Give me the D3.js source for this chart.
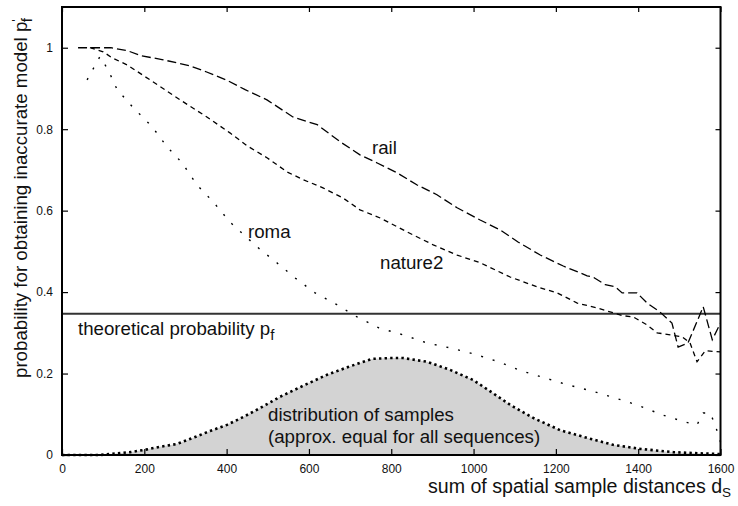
<!DOCTYPE html>
<html>
<head>
<meta charset="utf-8">
<script src="https://cdn.jsdelivr.net/npm/d3@7"></script>
<style>
  html, body { margin: 0; padding: 0; background: #fff; }
  text { font-family: "Liberation Sans", Arial, Helvetica, sans-serif; fill: #111; }
</style>
</head>
<body>
<svg id="chart" width="738" height="506"></svg>
<script>
// ---- data ----
const xTicks = [0, 200, 400, 600, 800, 1000, 1200, 1400, 1600];
const yTicks = [0, 0.2, 0.4, 0.6, 0.8, 1];
const yTickLabels = ["0", "0.2", "0.4", "0.6", "0.8", "1"];

const theoreticalP = 0.347;

const railX = [39,119,158,194,243,309,350,399,445,498,561,620,676,724,766,814,863,911,960,1016,1064,1108,1162,1218,1276,1290,1320,1344,1361,1397,1422,1453,1482,1497,1521,1558,1580,1600];
const railY = [1.0,1.0,0.993,0.980,0.971,0.956,0.941,0.921,0.897,0.872,0.830,0.811,0.769,0.737,0.717,0.693,0.663,0.639,0.607,0.577,0.553,0.523,0.491,0.464,0.440,0.437,0.418,0.413,0.398,0.398,0.373,0.351,0.324,0.265,0.275,0.364,0.283,0.324];

const nature2X = [68,100,122,158,214,287,352,408,450,498,547,586,634,683,724,773,838,902,960,1016,1089,1154,1203,1252,1300,1363,1388,1422,1446,1478,1507,1526,1543,1563,1600];
const nature2Y = [1.0,0.990,0.975,0.958,0.921,0.872,0.830,0.791,0.759,0.730,0.695,0.676,0.656,0.631,0.602,0.582,0.548,0.516,0.491,0.472,0.437,0.413,0.398,0.373,0.361,0.342,0.339,0.319,0.300,0.295,0.290,0.275,0.229,0.256,0.253];

const romaX = [61,92,112,134,173,219,255,292,328,367,408,474,522,566,615,668,717,770,829,887,943,1001,1060,1118,1174,1230,1288,1344,1397,1460,1514,1543,1558,1575,1587,1600];
const romaY = [0.921,0.978,0.946,0.897,0.853,0.806,0.757,0.717,0.663,0.622,0.572,0.511,0.472,0.435,0.398,0.369,0.339,0.312,0.295,0.275,0.263,0.248,0.229,0.206,0.189,0.172,0.157,0.140,0.123,0.098,0.081,0.074,0.103,0.103,0.074,0.032];

const distX = [0,92,165,197,238,279,318,360,401,440,481,530,586,644,695,753,797,829,887,943,999,1047,1089,1145,1210,1276,1339,1405,1485,1600];
const distY = [0,0,0.007,0.012,0.020,0.027,0.042,0.059,0.074,0.093,0.115,0.143,0.170,0.197,0.216,0.236,0.238,0.238,0.229,0.209,0.184,0.152,0.123,0.091,0.061,0.042,0.025,0.015,0.007,0.002];

// ---- layout ----
const svg = d3.select("#chart");
const L = 62, R = 720.5, T = 7, B = 455;
const x = d3.scaleLinear().domain([0, 1600]).range([L, R]);
const y = d3.scaleLinear().domain([0, 1.1]).range([B, T]);

const zip = (xs, ys) => xs.map((v, i) => [v, ys[i]]);
const line = d3.line().x(d => x(d[0])).y(d => y(d[1]));
const area = d3.area().x(d => x(d[0])).y0(y(0)).y1(d => y(d[1]));

// distribution fill
svg.append("path").attr("d", area(zip(distX, distY)))
  .attr("fill", "#d3d3d3").attr("stroke", "none");
svg.append("path").attr("d", line(zip(distX, distY)))
  .attr("fill", "none").attr("stroke", "#000").attr("stroke-width", 2.6)
  .attr("stroke-dasharray", "2.4,3.2");

// theoretical line
svg.append("line").attr("x1", x(0)).attr("x2", x(1600))
  .attr("y1", y(theoreticalP)).attr("y2", y(theoreticalP))
  .attr("stroke", "#333").attr("stroke-width", 1.9);

// series
svg.append("path").attr("d", line(zip(railX, railY)))
  .attr("fill", "none").attr("stroke", "#000").attr("stroke-width", 1.3)
  .attr("stroke-dasharray", "9,4");
svg.append("path").attr("d", line(zip(nature2X, nature2Y)))
  .attr("fill", "none").attr("stroke", "#000").attr("stroke-width", 1.3)
  .attr("stroke-dasharray", "5,4");
svg.append("path").attr("d", line(zip(romaX, romaY)))
  .attr("fill", "none").attr("stroke", "#000").attr("stroke-width", 1.4)
  .attr("stroke-dasharray", "2,10");

// axes
const xAxis = d3.axisBottom(x).tickValues(xTicks).tickSize(-6).tickPadding(9)
  .tickFormat(d3.format("d"));
const gx = svg.append("g").attr("transform", `translate(0,${B})`).call(xAxis);
const yAxis = d3.axisLeft(y).tickValues(yTicks).tickSize(-6).tickPadding(9)
  .tickFormat((d, i) => yTickLabels[i]);
const gy = svg.append("g").attr("transform", `translate(${L},0)`).call(yAxis);
const gt = svg.append("g").attr("transform", `translate(0,${T})`)
  .call(d3.axisTop(x).tickValues(xTicks).tickSize(-5).tickFormat(""));
const gr = svg.append("g").attr("transform", `translate(${R},0)`)
  .call(d3.axisRight(y).tickValues(yTicks).tickSize(-5).tickFormat(""));
[gx, gy, gt, gr].forEach(g => {
  g.select(".domain").remove();
  g.selectAll(".tick line").attr("stroke", "#000").attr("stroke-width", 1.2);
  g.selectAll(".tick text").attr("font-size", 12).attr("font-family", "Liberation Sans, Arial, sans-serif").attr("fill", "#111");
});
gx.selectAll(".tick text").attr("dy", "0.71em");

// frame
svg.append("rect").attr("x", L).attr("y", T).attr("width", R - L).attr("height", B - T)
  .attr("fill", "none").attr("stroke", "#000").attr("stroke-width", 2);

// labels
const FS = 18.7;
const xl = svg.append("text").attr("x", 428).attr("y", 493).attr("font-size", 19.6);
xl.append("tspan").text("sum of spatial sample distances d");
xl.append("tspan").attr("dy", 4).attr("font-size", 13.5).text("S");

const yl = svg.append("text").attr("transform", "translate(27,378) rotate(-90)")
  .attr("font-size", FS);
yl.append("tspan").text("probability for obtaining inaccurate model p");
yl.append("tspan").attr("dy", -6).attr("font-size", 13).text("'");
yl.append("tspan").attr("dx", -3).attr("dy", 11).attr("font-size", 15).text("f");

const tl = svg.append("text").attr("x", 78).attr("y", 335).attr("font-size", FS);
tl.append("tspan").text("theoretical probability p");
tl.append("tspan").attr("dy", 5).attr("font-size", 15).text("f");

svg.append("text").attr("x", 372).attr("y", 154).attr("font-size", FS).text("rail");
svg.append("text").attr("x", 380).attr("y", 269).attr("font-size", FS).text("nature2");
svg.append("text").attr("x", 248).attr("y", 238).attr("font-size", FS).text("roma");
svg.append("text").attr("x", 268).attr("y", 421).attr("font-size", FS).text("distribution of samples");
svg.append("text").attr("x", 268).attr("y", 443).attr("font-size", FS).text("(approx. equal for all sequences)");
</script>
</body>
</html>
